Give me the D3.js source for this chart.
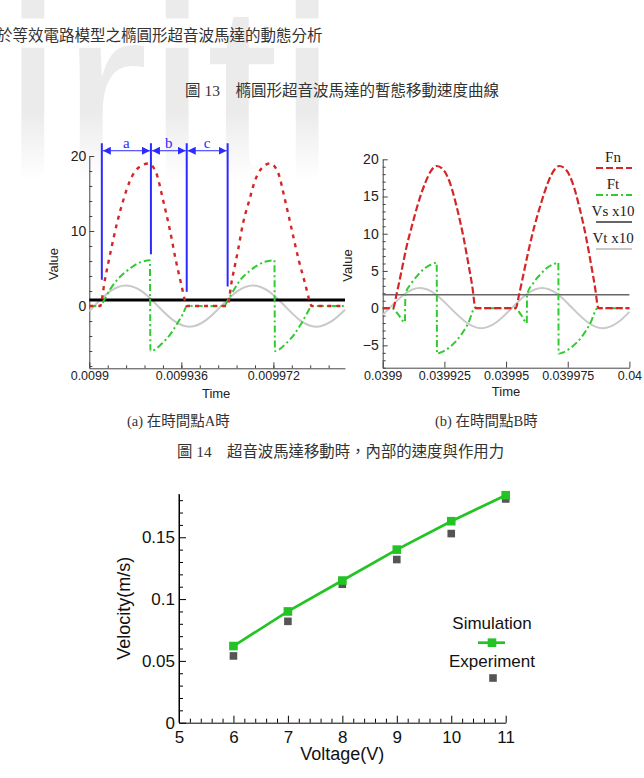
<!DOCTYPE html>
<html>
<head>
<meta charset="utf-8">
<script src="https://cdn.jsdelivr.net/npm/d3@7"></script>
<style>
  body { margin: 0; background: #fff; }
  svg { display: block; }
</style>
</head>
<body>
<div id="page"></div>
<script>
// ---- page texts
const headerText = "於等效電路模型之橢圓形超音波馬達的動態分析";
const caption13 = "圖 13　橢圓形超音波馬達的暫態移動速度曲線";
const captionA = "(a)  在時間點A時";
const captionB = "(b)  在時間點B時";
const caption14 = "圖 14　超音波馬達移動時，內部的速度與作用力";

// ---- panel (a): time window A, [time (s), value]
const fnA = [[0.0099000, 0], [0.0099042, 0], [0.0099061, 3.5], [0.0099085, 7.5], [0.0099108, 11],
  [0.0099132, 14], [0.0099159, 16.7], [0.0099191, 18.4], [0.0099230, 19], [0.0099261, 17.8],
  [0.0099288, 14.2], [0.0099316, 10], [0.0099339, 6], [0.0099359, 3], [0.0099378, 0.3],
  [0.0099382, 0], [0.0099539, 0], [0.0099558, 3.5], [0.0099582, 7.5], [0.0099601, 11],
  [0.0099625, 14], [0.0099648, 16.7], [0.0099675, 18.4], [0.0099707, 19], [0.0099738, 17.8],
  [0.0099765, 14.2], [0.0099793, 10], [0.0099820, 6], [0.0099844, 3], [0.0099865, 0.3],
  [0.0099869, 0], [0.0100000, 0]];
const ftA = [[0.0099000, 0], [0.0099042, 0], [0.0099058, 0.8], [0.0099081, 2.2], [0.0099112, 3.6],
  [0.0099144, 4.6], [0.0099175, 5.4], [0.0099206, 5.9], [0.0099237, 6.1], [0.0099239, -6.0],
  [0.0099257, -5.8], [0.0099284, -5.0], [0.0099316, -3.8], [0.0099343, -2.4], [0.0099367, -1.0],
  [0.0099382, 0], [0.0099527, 0], [0.0099542, 0.8], [0.0099566, 2.2], [0.0099593, 3.6],
  [0.0099625, 4.6], [0.0099656, 5.4], [0.0099687, 5.9], [0.0099724, 6.1], [0.0099726, -6.0],
  [0.0099742, -5.8], [0.0099769, -5.0], [0.0099801, -3.8], [0.0099828, -2.4], [0.0099851, -1.0],
  [0.0099871, 0], [0.0100000, 0]];
const vtA = [[0.0099000, -0.7], [0.0099019, 0], [0.0099081, 1.95], [0.0099144, 2.75], [0.0099206, 1.95],
  [0.0099268, 0], [0.0099330, -1.95], [0.0099392, -2.75], [0.0099454, -1.95], [0.0099516, 0],
  [0.0099578, 1.95], [0.0099640, 2.75], [0.0099702, 1.95], [0.0099765, 0], [0.0099826, -1.95],
  [0.0099889, -2.75], [0.0099951, -1.95], [0.0100000, -0.5]];
const vsA = [[0.0099, 0.8], [0.0100, 0.8]];
const phaseTimesA = [0.0099049, 0.0099241, 0.0099381, 0.0099541];
const phaseBottomA = [3.5, 6.9, 1.9, 2.6];
const phaseLabels = ["a", "b", "c"];
const xTicksA = [0.0099, 0.009936, 0.009972];
const xTickLabelsA = ["0.0099", "0.009936", "0.009972"];
const yTicksA = [0, 10, 20];

// ---- panel (b): time window B
const fnB = [[0.0399000, 0], [0.0399042, 0], [0.0399057, 2.0], [0.0399077, 5.1], [0.0399097, 8.3],
  [0.0399118, 11], [0.0399144, 14.1], [0.0399172, 16.8], [0.0399199, 18.6], [0.0399219, 19.1],
  [0.0399246, 18.6], [0.0399273, 16.8], [0.0399300, 13.6], [0.0399327, 9.6], [0.0399347, 6.0],
  [0.0399365, 2.5], [0.0399374, 0.2], [0.0399378, 0], [0.0399539, 0], [0.0399554, 2.0],
  [0.0399574, 5.1], [0.0399595, 8.3], [0.0399615, 11], [0.0399642, 14.1], [0.0399669, 16.8],
  [0.0399696, 18.6], [0.0399716, 19.1], [0.0399743, 18.6], [0.0399770, 16.8], [0.0399797, 13.6],
  [0.0399824, 9.6], [0.0399844, 6.0], [0.0399862, 2.5], [0.0399872, 0.2], [0.0399876, 0],
  [0.0400000, 0]];
const ftB = [[0.0399000, 0], [0.0399038, 0], [0.0399062, -0.8], [0.0399090, -1.9], [0.0399092, 1.9],
  [0.0399118, 3.4], [0.0399144, 4.5], [0.0399172, 5.4], [0.0399199, 5.9], [0.0399219, 6.1],
  [0.0399220, -6.1], [0.0399232, -6.0], [0.0399273, -5.2], [0.0399313, -3.8], [0.0399347, -2.0],
  [0.0399374, 0], [0.0399536, 0], [0.0399561, -0.9], [0.0399584, -2.0], [0.0399585, 1.8],
  [0.0399611, 3.4], [0.0399638, 4.5], [0.0399665, 5.4], [0.0399692, 5.9], [0.0399712, 6.1],
  [0.0399713, -6.1], [0.0399727, -6.0], [0.0399767, -5.2], [0.0399808, -3.8], [0.0399842, -2.0],
  [0.0399871, 0], [0.0400000, 0]];
const vtB = [[0.0399000, -0.9], [0.0399027, 0], [0.0399089, 1.9], [0.0399151, 2.7], [0.0399213, 1.9],
  [0.0399275, 0], [0.0399338, -1.9], [0.0399399, -2.7], [0.0399461, -1.9], [0.0399523, 0],
  [0.0399585, 1.9], [0.0399646, 2.7], [0.0399708, 1.9], [0.0399769, 0], [0.0399831, -1.9],
  [0.0399893, -2.7], [0.0399954, -1.9], [0.0400000, -0.5]];
const vsB = [[0.0399, 1.8], [0.0400, 1.8]];
const xTicksB = [0.0399, 0.039925, 0.03995, 0.039975, 0.04];
const xTickLabelsB = ["0.0399", "0.039925", "0.03995", "0.039975", "0.04"];
const yTicksB = [-5, 0, 5, 10, 15, 20];
const legendB = ["Fn", "Ft", "Vs x10", "Vt x10"];

// ---- velocity vs voltage
const voltage = [6, 7, 8, 9, 10, 11];
const velSim = [0.062, 0.090, 0.115, 0.140, 0.163, 0.184];
const velExp = [0.054, 0.082, 0.112, 0.132, 0.153, 0.181];
const xTicksV = [5, 6, 7, 8, 9, 10, 11];
const yTicksV = [0, 0.05, 0.1, 0.15];
const yTickLabelsV = ["0", "0.05", "0.1", "0.15"];
const legendV = ["Simulation", "Experiment"];

const W = 644, H = 778;
const sans = "'Liberation Sans', Arial, sans-serif";
const serif = "'Liberation Serif', 'Noto Sans CJK TC', serif";
const cjk = "'Liberation Serif', 'Noto Sans CJK TC', sans-serif";

const svg = d3.select("#page").append("svg")
  .attr("width", W).attr("height", H)
  .attr("viewBox", `0 0 ${W} ${H}`);

const defs = svg.append("defs");
const fade = defs.append("linearGradient").attr("id", "fade")
  .attr("gradientUnits", "userSpaceOnUse")
  .attr("x1", 0).attr("y1", 0).attr("x2", 0).attr("y2", 180);
fade.append("stop").attr("offset", "0.62").attr("stop-color", "#ebebeb");
fade.append("stop").attr("offset", "1").attr("stop-color", "#ffffff");

defs.append("marker").attr("id", "arrow")
  .attr("viewBox", "0 0 10 10").attr("refX", 10).attr("refY", 5)
  .attr("markerWidth", 8).attr("markerHeight", 8)
  .attr("markerUnits", "userSpaceOnUse")
  .attr("orient", "auto-start-reverse")
  .append("path").attr("d", "M0,0L10,5L0,10Z").attr("fill", "#2b2bff");

// watermark
svg.append("text")
  .attr("x", 4).attr("y", 185)
  .style("font-family", sans).style("font-size", "260px")
  .attr("fill", "url(#fade)")
  .text("iriti");

// page texts
svg.append("text").attr("x", -3).attr("y", 41)
  .style("font-family", cjk).style("font-size", "15.5px").attr("fill", "#333")
  .text(headerText);
svg.append("text").attr("x", 185).attr("y", 96)
  .style("font-family", cjk).style("font-size", "15.5px").attr("fill", "#333")
  .text(caption13);
svg.append("text").attr("x", 127).attr("y", 426)
  .style("font-family", cjk).style("font-size", "14.5px").attr("fill", "#333")
  .text(captionA);
svg.append("text").attr("x", 435).attr("y", 426)
  .style("font-family", cjk).style("font-size", "14.5px").attr("fill", "#333")
  .text(captionB);
svg.append("text").attr("x", 177).attr("y", 457)
  .style("font-family", cjk).style("font-size", "15.4px").attr("fill", "#333")
  .text(caption14);

// ---------- helper for the two time panels
function timePanel(o) {
  const g = svg.append("g");
  const x = d3.scaleLinear().domain(o.xDomain).range(o.xRange);
  const y = d3.scaleLinear().domain(o.yDomain).range(o.yRange);

  // minor ticks
  g.append("g").attr("transform", `translate(${o.xRange[0]},0)`)
    .call(d3.axisLeft(y).tickValues(o.yMinor).tickSize(-3).tickFormat(""))
    .call(a => a.select(".domain").remove())
    .selectAll("line").attr("stroke", "#444");
  g.append("g").attr("transform", `translate(0,${o.yRange[0]})`)
    .call(d3.axisBottom(x).tickValues(o.xMinor).tickSize(-3).tickFormat(""))
    .call(a => a.select(".domain").remove())
    .selectAll("line").attr("stroke", "#444");

  const yAx = g.append("g").attr("transform", `translate(${o.xRange[0]},0)`)
    .call(d3.axisLeft(y).tickValues(o.yTicks).tickSize(-5).tickSizeOuter(0).tickPadding(o.yPad));
  const xAx = g.append("g").attr("transform", `translate(0,${o.yRange[0]})`)
    .call(d3.axisBottom(x).tickValues(o.xTicks).tickSize(-6).tickSizeOuter(0).tickPadding(3)
      .tickFormat((d, i) => o.xLabels[i]));
  [yAx, xAx].forEach(a => {
    a.select(".domain").attr("stroke", "#444");
    a.selectAll("line").attr("stroke", "#444");
    a.selectAll("text").style("font-family", sans).attr("fill", "#222");
  });
  yAx.selectAll("text").style("font-size", "14px");
  xAx.selectAll("text").style("font-size", "12.5px");

  g.append("text")
    .attr("transform", `translate(${o.xRange[0] - 31},${(o.yRange[0] + o.yRange[1]) / 2 + 2}) rotate(-90)`)
    .attr("text-anchor", "middle")
    .style("font-family", sans).style("font-size", "13px").attr("fill", "#222")
    .text("Value");
  g.append("text")
    .attr("x", (o.xRange[0] + o.xRange[1]) / 2 + o.timeDx).attr("y", o.yRange[0] + o.timeDy)
    .attr("text-anchor", "middle")
    .style("font-family", sans).style("font-size", "13px").attr("fill", "#222")
    .text("Time");

  const smooth = d3.line().x(d => x(d[0])).y(d => y(d[1])).curve(d3.curveNatural);
  const mono = d3.line().x(d => x(d[0])).y(d => y(d[1])).curve(d3.curveMonotoneX);

  g.append("path").datum(o.vt).attr("d", smooth)
    .attr("fill", "none").attr("stroke", "#c9c9c9").attr("stroke-width", 2);
  g.append("path").datum(o.vs).attr("d", mono)
    .attr("fill", "none").attr("stroke", o.vsColor).attr("stroke-width", o.vsWidth);
  g.append("path").datum(o.ft).attr("d", mono)
    .attr("fill", "none").attr("stroke", "#2fcc2f").attr("stroke-width", 2)
    .attr("stroke-dasharray", "7,3,2,3");
  g.append("path").datum(o.fn).attr("d", mono)
    .attr("fill", "none").attr("stroke", "#d42626").attr("stroke-width", o.fnWidth)
    .attr("stroke-dasharray", o.fnDash);

  return { g, x, y };
}

// ---------- panel (a)
const pa = timePanel({
  xDomain: [0.0099, 0.0100], xRange: [89.3, 345],
  yDomain: [-8.3, 20], yRange: [368.3, 156],
  yTicks: yTicksA, yMinor: d3.range(-8, 20, 2).filter(v => v % 10 !== 0),
  xTicks: xTicksA, xLabels: xTickLabelsA,
  xMinor: d3.range(1, 14).map(i => 0.0099 + i * 0.0000072),
  yPad: 3, timeDx: -1, timeDy: 30,
  fn: fnA, ft: ftA, vt: vtA, vs: vsA,
  vsColor: "#000", vsWidth: 3, fnWidth: 2.4, fnDash: "4,5"
});

// phase markers a / b / c
const blue = "#2b2bff";
const topVal = 21.7, arrowVal = 20.7, labelVal = 21.6;
pa.g.selectAll(".phase").data(phaseTimesA).join("line")
  .attr("x1", d => pa.x(d)).attr("x2", d => pa.x(d))
  .attr("y1", pa.y(topVal)).attr("y2", (d, i) => pa.y(phaseBottomA[i]))
  .attr("stroke", blue).attr("stroke-width", 2);
pa.g.selectAll(".span").data(phaseLabels).join("line")
  .attr("x1", (d, i) => pa.x(phaseTimesA[i]) + 1)
  .attr("x2", (d, i) => pa.x(phaseTimesA[i + 1]) - 1)
  .attr("y1", pa.y(arrowVal)).attr("y2", pa.y(arrowVal))
  .attr("stroke", blue).attr("stroke-width", 1)
  .attr("marker-start", "url(#arrow)").attr("marker-end", "url(#arrow)");
pa.g.selectAll(".plabel").data(phaseLabels).join("text")
  .attr("x", (d, i) => (pa.x(phaseTimesA[i]) + pa.x(phaseTimesA[i + 1])) / 2)
  .attr("y", pa.y(labelVal) + 4)
  .attr("text-anchor", "middle")
  .style("font-family", serif).style("font-size", "15px").attr("fill", blue)
  .text(d => d);

// ---------- panel (b)
const pb = timePanel({
  xDomain: [0.0399, 0.0400], xRange: [382.7, 629.4],
  yDomain: [-8, 20], yRange: [367.7, 159.3],
  yTicks: yTicksB, yMinor: d3.range(-8, 20, 1).filter(v => v % 5 !== 0),
  xTicks: xTicksB, xLabels: xTickLabelsB,
  xMinor: [],
  yPad: 4, timeDx: 0, timeDy: 28,
  fn: fnB, ft: ftB, vt: vtB, vs: vsB,
  vsColor: "#666", vsWidth: 1.6, fnWidth: 2.2, fnDash: "7,3"
});

const legendStyle = [
  { stroke: "#d42626", width: 2.2, dash: "7,3" },
  { stroke: "#2fcc2f", width: 2, dash: "7,3,2,3" },
  { stroke: "#666", width: 2, dash: null },
  { stroke: "#c9c9c9", width: 2, dash: null }
];
const lg = pb.g.selectAll(".leg").data(legendB).join("g")
  .attr("transform", (d, i) => `translate(613,${162 + i * 27})`);
lg.append("text").attr("text-anchor", "middle")
  .style("font-family", serif).style("font-size", "15px").attr("fill", "#222")
  .text(d => d);
lg.append("line").attr("x1", -17).attr("x2", 19).attr("y1", 6).attr("y2", 6)
  .attr("stroke", (d, i) => legendStyle[i].stroke)
  .attr("stroke-width", (d, i) => legendStyle[i].width)
  .attr("stroke-dasharray", (d, i) => legendStyle[i].dash);

// ---------- velocity vs voltage
const xV = d3.scaleLinear().domain([5, 11]).range([179, 505.7]);
const yV = d3.scaleLinear().domain([0, 0.185]).range([722.7, 494]);
const gv = svg.append("g");

gv.append("g").attr("transform", "translate(179,0)")
  .call(d3.axisLeft(yV).tickValues(d3.range(1, 19).map(i => i / 100).filter(v => Math.round(v * 100) % 5 !== 0))
    .tickSize(-4).tickFormat(""))
  .call(a => a.select(".domain").remove());
gv.append("g").attr("transform", "translate(0,722.7)")
  .call(d3.axisBottom(xV).tickValues(d3.range(5.2, 11, 0.2).filter(v => Math.abs(v - Math.round(v)) > 0.01))
    .tickSize(-4).tickFormat(""))
  .call(a => a.select(".domain").remove());

const yAxV = gv.append("g").attr("transform", "translate(179,0)")
  .call(d3.axisLeft(yV).tickValues(yTicksV).tickSize(-7).tickSizeOuter(0).tickPadding(4)
    .tickFormat((d, i) => yTickLabelsV[i]));
const xAxV = gv.append("g").attr("transform", "translate(0,722.7)")
  .call(d3.axisBottom(xV).tickValues(xTicksV).tickSize(-7).tickSizeOuter(0).tickPadding(8)
    .tickFormat(d3.format("d")));
// y axis runs above the top tick
gv.append("line").attr("x1", 179).attr("x2", 179).attr("y1", yV(0)).attr("y2", yV(0.185))
  .attr("stroke", "#000");
[yAxV, xAxV].forEach(a => a.selectAll("text")
  .style("font-family", sans).style("font-size", "17px").attr("fill", "#111"));

gv.append("text")
  .attr("transform", `translate(130,${(yV(0) + yV(0.185)) / 2}) rotate(-90)`)
  .attr("text-anchor", "middle")
  .style("font-family", sans).style("font-size", "18px").attr("fill", "#111")
  .text("Velocity(m/s)");
gv.append("text").attr("x", (xV(5) + xV(11)) / 2).attr("y", 760)
  .attr("text-anchor", "middle")
  .style("font-family", sans).style("font-size", "18px").attr("fill", "#111")
  .text("Voltage(V)");

const green = "#22c322", gray = "#555";
gv.append("path").datum(voltage.map((v, i) => [v, velSim[i]]))
  .attr("d", d3.line().x(d => xV(d[0])).y(d => yV(d[1])))
  .attr("fill", "none").attr("stroke", green).attr("stroke-width", 2.7);
gv.selectAll(".exp").data(voltage).join("rect")
  .attr("x", d => xV(d) - 3.8).attr("y", (d, i) => yV(velExp[i]) - 3.8)
  .attr("width", 7.6).attr("height", 7.6).attr("fill", gray);
gv.selectAll(".sim").data(voltage).join("rect")
  .attr("x", d => xV(d) - 4.3).attr("y", (d, i) => yV(velSim[i]) - 4.3)
  .attr("width", 8.6).attr("height", 8.6).attr("fill", green);

// legend
const lv = gv.selectAll(".lv").data(legendV).join("g")
  .attr("transform", (d, i) => `translate(492,${629 + i * 37.7})`);
lv.append("text").attr("text-anchor", "middle")
  .style("font-family", sans).style("font-size", "17px").attr("fill", "#111")
  .text(d => d);
lv.filter((d, i) => i === 0).append("line")
  .attr("x1", -14).attr("x2", 13).attr("y1", 13.7).attr("y2", 13.7)
  .attr("stroke", green).attr("stroke-width", 2.7);
lv.filter((d, i) => i === 0).append("rect")
  .attr("x", -4.3).attr("y", 13.7 - 4.3).attr("width", 8.6).attr("height", 8.6).attr("fill", green);
lv.filter((d, i) => i === 1).append("rect")
  .attr("x", 1 - 3.8).attr("y", 11.3 - 3.8).attr("width", 7.6).attr("height", 7.6).attr("fill", gray);
</script>
</body>
</html>
